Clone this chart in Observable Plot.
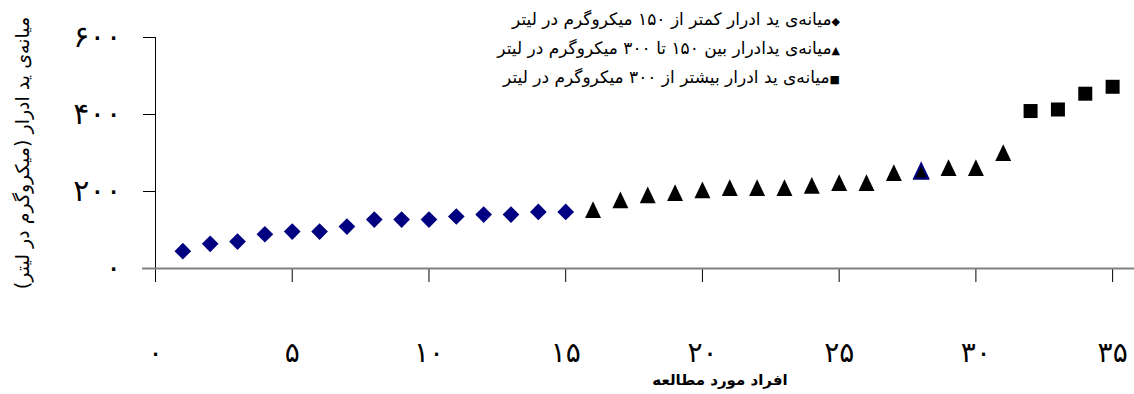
<!DOCTYPE html>
<html><head><meta charset="utf-8">
<script src="https://cdn.jsdelivr.net/npm/d3@7"></script>
<script src="https://cdn.jsdelivr.net/npm/@observablehq/plot@0.6"></script>
<style>
body{margin:0;background:#fff;}
#wrap{position:relative;width:1134px;height:394px;overflow:hidden;font-family:"DejaVu Sans",sans-serif;}
#legend{position:absolute;right:294px;top:6px;direction:rtl;text-align:right;font-size:17px;line-height:26px;color:#000;white-space:nowrap;}
#legend .m{font-size:11px;}
</style></head><body><div id="wrap"><div id="legend"></div></div>
<script>
// ---- data ----
const lowX = [1,2,3,4,5,6,7,8,9,10,11,12,13,14,15];
const lowY = [45,64,70,89,96,96,109,127,127,127,135,140,140,147,147];
const midX = [16,17,18,19,20,21,22,23,24,25,26,27,28,29,30,31];
const midY = [153,178,191,197,204,210,210,210,216,223,223,249,253,262,262,301];
const highX = [32,33,34,35];
const highY = [409,413,454,472];

const xTicks = [0,5,10,15,20,25,30,35];
const xTickLabels = ["۰","۵","۱۰","۱۵","۲۰","۲۵","۳۰","۳۵"];
const yTicks = [0,200,400,600];
const yTickLabels = ["۰","۲۰۰","۴۰۰","۶۰۰"];

const seriesNames = [
  "میانه‌ی ید ادرار کمتر از ۱۵۰ میکروگرم در لیتر",
  "میانه‌ی یدادرار بین ۱۵۰ تا ۳۰۰ میکروگرم در لیتر",
  "میانه‌ی ید ادرار بیشتر از ۳۰۰ میکروگرم در لیتر"
];
const legendSymbols = ["◆","▲","■"];
const xTitle = "افراد مورد مطالعه";
const yTitle = "میانه‌ی ید ادرار (میکروگرم در لیتر)";

// ---- build ----
const low = lowX.map((x,i)=>({x, y: lowY[i]}));
const mid = midX.map((x,i)=>({x, y: midY[i]}));
const high = highX.map((x,i)=>({x, y: highY[i]}));

const tri = {draw(ctx, size){
  const s = Math.sqrt(size);
  const w = s, h = s*1.05;
  ctx.moveTo(0, -h/2); ctx.lineTo(w/2, h/2); ctx.lineTo(-w/2, h/2); ctx.closePath();
}};
const FONT = "DejaVu Sans";

const chart = Plot.plot({
  width: 1134, height: 394,
  marginLeft: 155, marginRight: 0, marginTop: 37, marginBottom: 126,
  style: {fontFamily: FONT, background: "white", overflow: "visible", color: "black"},
  x: {domain: [0, 35.8]},
  y: {domain: [0, 600]},
  marks: [
    Plot.axisY(yTicks, {tickSize: 12, tickPadding: 22, fontSize: 30,
      tickFormat: d => yTickLabels[yTicks.indexOf(d)], label: null}),
    Plot.axisX(xTicks, {tickSize: 14, tickPadding: 60, fontSize: 28,
      tickFormat: d => xTickLabels[xTicks.indexOf(d)], label: null}),
    Plot.ruleX([0], {stroke: "black", strokeWidth: 1, insetBottom: -14}),
    Plot.ruleY([0], {stroke: "#808080", strokeWidth: 2, insetLeft: -13}),
    Plot.dot(low, {x: "x", y: "y", symbol: "square", rotate: 45, r: 6.66, fill: "#000080", stroke: "none"}),
    Plot.dot(mid, {x: "x", y: "y", symbol: tri, r: 9, fill: "black", stroke: "none"}),
    Plot.dot(mid, {filter: d => d.x === 28, x: "x", y: "y", symbol: tri, r: 8, fill: "black", stroke: "#000080", strokeWidth: 2}),
    Plot.dot(high, {x: "x", y: "y", symbol: "square", r: 7.9, fill: "black", stroke: "none"}),
    Plot.text([yTitle], {text: d => d, frameAnchor: "left", textAnchor: "middle", rotate: -90, dx: -133, dy: 0, fontSize: 19}),
    Plot.text([xTitle], {text: d => d, frameAnchor: "bottom", textAnchor: "middle", dx: 75, dy: 116, fontSize: 15, fontWeight: "bold"})
  ]
});
document.getElementById("wrap").prepend(chart);

const legend = document.getElementById("legend");
seriesNames.forEach((name, i) => {
  const row = document.createElement("div");
  const m = document.createElement("span");
  m.className = "m"; m.textContent = legendSymbols[i];
  const t = document.createElement("span");
  t.textContent = name;
  row.appendChild(m); row.appendChild(t);
  legend.appendChild(row);
});
</script></body></html>
